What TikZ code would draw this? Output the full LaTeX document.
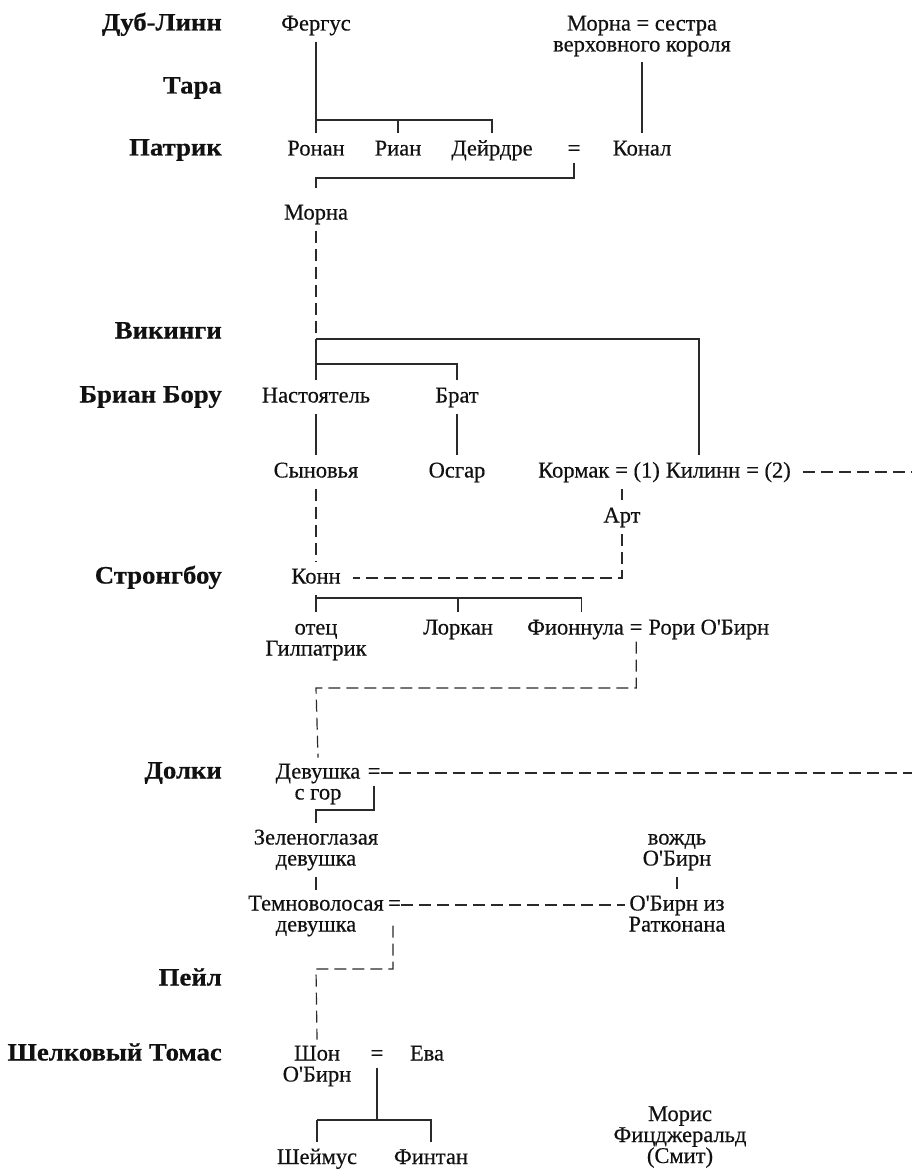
\documentclass[tikz,border=0pt]{standalone}
\usepackage{fontspec}
\newfontfamily\rf{Liberation Serif}[Ligatures=TeXOff, FakeBold=0.4]
\newfontfamily\gf{Liberation Serif Bold}[Ligatures=TeXOff, FakeStretch=1.07, FakeBold=0.5]
\definecolor{lc}{HTML}{2A2A2A}
\definecolor{tc}{HTML}{111111}
\tikzset{
  nm/.style={font=\rf\fontsize{22.5}{21}\selectfont, text=tc, text height=16pt, text depth=5pt, inner ysep=6pt, inner xsep=3pt, anchor=base},
  ml/.style={font=\rf\fontsize{22.5}{21}\selectfont, text=tc, align=center, inner ysep=6pt, inner xsep=3pt, anchor=base},
  eqs/.style={nm, inner ysep=2pt},
  gen/.style={font=\gf\fontsize{25}{28}\selectfont, text=tc, anchor=base east, inner sep=0pt},
  ln/.style={draw=lc, line width=1.2pt},
  dsh/.style={draw=lc, line width=1.2pt, dash pattern=on 12pt off 6pt},
}
\begin{document}
\begin{tikzpicture}[x=1pt,y=-1pt]
\useasboundingbox (0,0) rectangle (912,1169);
% generation labels
\node[gen] (g1) at (222,30.5) {Дуб-Линн};
\node[gen] (g2) at (222,93.5) {Тара};
\node[gen] (g3) at (222,155.5) {Патрик};
\node[gen] (g4) at (222,338.5) {Викинги};
\node[gen] (g5) at (222,402.5) {Бриан Бору};
\node[gen] (g6) at (222,583.5) {Стронгбоу};
\node[gen] (g7) at (222,778.5) {Долки};
\node[gen] (g8) at (222,985.5) {Пейл};
\node[gen] (g9) at (222,1060.5) {Шелковый Томас};
% people (multi-line nodes are placed by the baseline of their last line)
\node[nm] (fergus) at (316,30.5) {Фергус};
\node[ml] (msis) at (642,51.5) {Морна = сестра\\верховного короля};
\node[nm] (ronan) at (316,155.5) {Ронан};
\node[nm] (rian) at (398,155.5) {Риан};
\node[nm] (deirdre) at (492,155.5) {Дейрдре};
\node[eqs] (eqA) at (574,155.5) {=};
\node[nm] (konal) at (642,155.5) {Конал};
\node[nm] (morna) at (316,219.5) {Морна};
\node[nm] (nast) at (316,402.5) {Настоятель};
\node[nm] (brat) at (457,402.5) {Брат};
\node[nm] (syn) at (316,477.5) {Сыновья};
\node[nm] (osgar) at (457,477.5) {Осгар};
\node[nm, inner xsep=0pt, anchor=base west] (kormak) at (538,477.5) {Кормак};
\node[nm, inner xsep=0pt, anchor=base west] (km1) at ([xshift=5.6pt]kormak.base east) {= (1)};
\node[nm, inner xsep=0pt, anchor=base west] (kilinn) at ([xshift=5.6pt]km1.base east) {Килинн};
\node[nm, inner xsep=0pt, anchor=base west] (km2) at ([xshift=5.6pt]kilinn.base east) {= (2)};
\node[nm] (art) at (622,522.5) {Арт};
\node[nm] (konn) at (316,583.5) {Конн};
\node[ml] (otec) at (316,655.5) {отец\\Гилпатрик};
\node[nm] (lorkan) at (458,634.5) {Лоркан};
\node[nm, inner xsep=0pt, anchor=base west] (fion) at (527,634.5) {Фионнула};
\node[eqs, inner xsep=0pt, anchor=base west] (eqF) at ([xshift=5.6pt]fion.base east) {=};
\node[nm, inner xsep=0pt, anchor=base west] (rori) at ([xshift=5.6pt]eqF.base east) {Рори О'Бирн};
\node[ml] (dev) at (318,799.5) {Девушка\\с гор};
\node[eqs, anchor=base west, inner xsep=0pt] (eqD) at ([xshift=4pt,yshift=21pt]dev.base east) {=};
\node[ml] (zel) at (316,865.5) {Зеленоглазая\\девушка};
\node[ml] (temno) at (316,931.5) {Темноволосая\\девушка};
\node[eqs, anchor=base west, inner xsep=0pt] (eqT) at ([xshift=1pt,yshift=21pt]temno.base east) {=};
\node[ml] (vozhd) at (677,865.5) {вождь\\О'Бирн};
\node[ml] (obirn) at (677,931.5) {О'Бирн из\\Ратконана};
\node[ml] (shon) at (317,1081.5) {Шон\\О'Бирн};
\node[eqs] (eqS) at (377,1060.5) {=};
\node[nm] (eva) at (427,1060.5) {Ева};
\node[nm] (sheimus) at (317,1164) {Шеймус};
\node[nm] (fintan) at (431,1164) {Финтан};
\node[ml] (moris) at (680,1163) {Морис\\Фицджеральд\\(Смит)};
% junctions
\coordinate (edge) at (912,0);
\coordinate (j1) at (316,120);
\coordinate (j2) at (316,178);
\coordinate (j3) at (316,339);
\coordinate (j4) at (316,364);
\coordinate (j5) at (316,598);
\coordinate (j6) at (316,688);
\coordinate (j7) at (316,810);
\coordinate (j8) at (393,969);
\coordinate (j8b) at (316,969);
\coordinate (j9) at (377,1120);
% connectors
\draw[ln] (fergus.south) -- (ronan.north);
\draw[ln] (ronan.north |- j1) -| (deirdre.north);
\draw[ln] (rian.north |- j1) -- (rian.north);
\draw[ln] (msis.south) -- (konal.north);
\draw[ln] (eqA.south) |- (j2) -- ([yshift=9pt]morna.north);
\draw[dsh] (morna.south) -- (j3);
\draw[ln] (j3) -| ([xshift=-4pt]kilinn.north);
\draw[ln] (j3) -- (nast.north);
\draw[ln] (j4) -| (brat.north);
\draw[ln] (nast.south) -- (syn.north);
\draw[ln] (brat.south) -- (osgar.north);
\draw[dsh] (syn.south) -- (konn.north);
\draw[dsh] (art.north) -- (art.north |- km1.south);
\draw[dsh, shorten >=9pt] (art.south) |- (konn.east);
\draw[dsh, shorten <=12pt] (km2.east) -- (km2.east -| edge);
\draw[ln] (konn.south) -- (konn.south |- lorkan.north);
\draw[ln] (j5) -| ([xshift=6pt]fion.north);
\draw[ln] (lorkan.north |- j5) -- (lorkan.north);
\draw[dsh] (eqF.south) |- (j6) -- (dev.north);
\draw[dsh] (eqD.east) -- (eqD.east -| edge);
\draw[ln] (eqD.south) |- (j7) -- (zel.north);
\draw[ln] (zel.south) -- (temno.north);
\draw[dsh] (eqT.east) -- (eqT.east -| obirn.west);
\draw[ln] (vozhd.south) -- (obirn.north);
\draw[dsh, shorten <=8pt] (eqT.south -| j8) -- (j8) -- (j8b) -- (shon.north);
\draw[ln] (eqS.south) -- (j9);
\draw[ln] (sheimus.north |- j9) -| (fintan.north);
\draw[ln] (sheimus.north |- j9) -- (sheimus.north);
\end{tikzpicture}
\end{document}
